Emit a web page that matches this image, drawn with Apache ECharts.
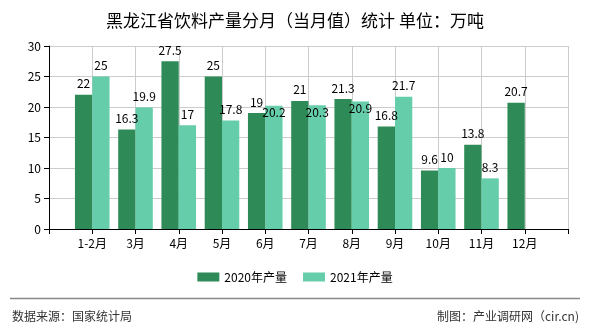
<!DOCTYPE html>
<html>
<head>
<meta charset="utf-8">
<script src="https://cdn.jsdelivr.net/npm/echarts@6/dist/echarts.min.js"></script>
<style>
html,body{margin:0;padding:0;background:#fff;}
#chart{width:590px;height:330px;}
</style>
</head>
<body>
<div id="chart"></div>
<script>
// Data
var categories = ['1-2月','3月','4月','5月','6月','7月','8月','9月','10月','11月','12月'];
var seriesNames = ['2020年产量','2021年产量'];
var values2020 = [22, 16.3, 27.5, 25, 19, 21, 21.3, 16.8, 9.6, 13.8, 20.7];
var values2021 = [25, 19.9, 17, 17.8, 20.2, 20.3, 20.9, 21.7, 10, 8.3, null];
var yTicks = [0, 5, 10, 15, 20, 25, 30];
var titleText = '黑龙江省饮料产量分月（当月值）统计 单位：万吨';
var sourceText = '数据来源：国家统计局';
var creditText = '制图：产业调研网（cir.cn)';

// label placement tweaks (indexes of 2021 labels drawn inside bar top, as in reference)
var insideLabelIdx2021 = [4, 5, 6];

var FONT = '"Noto Sans CJK SC", "DejaVu Sans", sans-serif';

var axisData = [''].concat(categories).concat(['']);
function pad(arr, insideIdx) {
  var out = ['-'];
  arr.forEach(function (v, i) {
    if (v === null || v === undefined) { out.push('-'); return; }
    if (insideIdx && insideIdx.indexOf(i) >= 0) {
      out.push({ value: v, label: { position: 'insideTop', distance: 1 } });
    } else {
      out.push(v);
    }
  });
  out.push('-');
  return out;
}

var chart = echarts.init(document.getElementById('chart'), null, { renderer: 'canvas' });
var labelStyle = { show: true, position: 'top', distance: 5, color: '#000', fontSize: 12, fontFamily: FONT };

chart.setOption({
  animation: false,
  backgroundColor: '#fff',
  title: {
    text: titleText,
    left: 'center',
    top: 7,
    textStyle: { fontSize: 17, fontWeight: 'normal', color: '#000', fontFamily: FONT }
  },
  legend: {
    data: seriesNames,
    top: 266,
    left: 'center',
    itemWidth: 22,
    itemHeight: 9,
    itemGap: 16,
    icon: 'rect',
    textStyle: { fontSize: 12, color: '#000', fontFamily: FONT }
  },
  grid: { left: 49, right: 22, top: 46, bottom: 101, containLabel: false },
  xAxis: {
    type: 'category',
    data: axisData,
    boundaryGap: false,
    axisLine: { lineStyle: { color: '#000', width: 1 } },
    axisTick: { show: true, length: 5, interval: 0, lineStyle: { color: '#000' } },
    axisLabel: { interval: 0, color: '#000', fontSize: 12, fontFamily: FONT, margin: 8 },
    splitLine: { show: true, interval: 0, lineStyle: { color: '#cccccc', width: 1 } }
  },
  yAxis: {
    type: 'value',
    min: yTicks[0],
    max: yTicks[yTicks.length - 1],
    interval: yTicks[1] - yTicks[0],
    axisLine: { show: true, lineStyle: { color: '#000', width: 1 } },
    axisTick: { show: true, length: 5, lineStyle: { color: '#000' } },
    axisLabel: { color: '#000', fontSize: 12, fontFamily: FONT, margin: 8 },
    splitLine: { show: true, lineStyle: { color: '#cccccc', width: 1 } }
  },
  series: [
    {
      name: seriesNames[0],
      type: 'bar',
      data: pad(values2020),
      itemStyle: { color: '#2e8b57' },
      barGap: '0%',
      barCategoryGap: '20%',
      label: labelStyle
    },
    {
      name: seriesNames[1],
      type: 'bar',
      data: pad(values2021, insideLabelIdx2021),
      itemStyle: { color: '#66cdaa' },
      barGap: '0%',
      barCategoryGap: '20%',
      label: labelStyle
    }
  ],
  graphic: [
    {
      type: 'line',
      shape: { x1: 10, y1: 298.5, x2: 580, y2: 298.5 },
      style: { stroke: '#888888', lineWidth: 1.5 }
    },
    {
      type: 'text',
      left: 12,
      top: 310,
      style: { text: sourceText, fill: '#333', fontSize: 12, fontFamily: FONT }
    },
    {
      type: 'text',
      right: 11,
      top: 310,
      style: { text: creditText, fill: '#333', fontSize: 12, fontFamily: FONT }
    }
  ]
});
</script>
</body>
</html>
